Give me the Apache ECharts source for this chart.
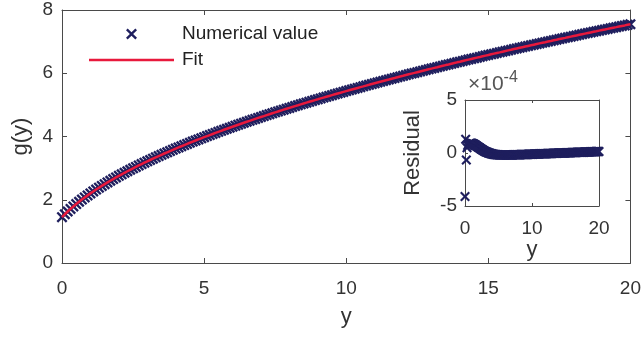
<!DOCTYPE html>
<html>
<head>
<meta charset="utf-8">
<script src="https://cdn.jsdelivr.net/npm/echarts@6/dist/echarts.min.js"></script>
<style>html,body{margin:0;padding:0;background:#fff}#c{width:644px;height:337px}</style>
</head>
<body>
<div id="c"></div>
<script>
// sample positions y
const xs = [0,0.1,0.2,0.3,0.4,0.5,0.6,0.7,0.8,0.9,1,1.1,1.2,1.3,1.4,1.5,1.6,1.7,1.8,1.9,2,2.1,2.2,2.3,2.4,2.5,2.6,2.7,2.8,2.9,3,3.1,3.2,3.3,3.4,3.5,3.6,3.7,3.8,3.9,4,4.1,4.2,4.3,4.4,4.5,4.6,4.7,4.8,4.9,5,5.1,5.2,5.3,5.4,5.5,5.6,5.7,5.8,5.9,6,6.1,6.2,6.3,6.4,6.5,6.6,6.7,6.8,6.9,7,7.1,7.2,7.3,7.4,7.5,7.6,7.7,7.8,7.9,8,8.1,8.2,8.3,8.4,8.5,8.6,8.7,8.8,8.9,9,9.1,9.2,9.3,9.4,9.5,9.6,9.7,9.8,9.9,10,10.1,10.2,10.3,10.4,10.5,10.6,10.7,10.8,10.9,11,11.1,11.2,11.3,11.4,11.5,11.6,11.7,11.8,11.9,12,12.1,12.2,12.3,12.4,12.5,12.6,12.7,12.8,12.9,13,13.1,13.2,13.3,13.4,13.5,13.6,13.7,13.8,13.9,14,14.1,14.2,14.3,14.4,14.5,14.6,14.7,14.8,14.9,15,15.1,15.2,15.3,15.4,15.5,15.6,15.7,15.8,15.9,16,16.1,16.2,16.3,16.4,16.5,16.6,16.7,16.8,16.9,17,17.1,17.2,17.3,17.4,17.5,17.6,17.7,17.8,17.9,18,18.1,18.2,18.3,18.4,18.5,18.6,18.7,18.8,18.9,19,19.1,19.2,19.3,19.4,19.5,19.6,19.7,19.8,19.9,20];
// numerical g(y) values
const gVals = [1.449,1.541,1.628,1.710,1.788,1.863,1.936,2.005,2.073,2.138,2.201,2.263,2.323,2.381,2.438,2.494,2.548,2.601,2.654,2.705,2.755,2.804,2.853,2.901,2.948,2.994,3.039,3.084,3.128,3.172,3.215,3.257,3.299,3.340,3.381,3.422,3.462,3.501,3.540,3.578,3.617,3.654,3.692,3.729,3.765,3.802,3.838,3.873,3.908,3.943,3.978,4.012,4.046,4.080,4.114,4.147,4.180,4.213,4.245,4.277,4.309,4.341,4.373,4.404,4.435,4.466,4.496,4.527,4.557,4.587,4.617,4.646,4.676,4.705,4.734,4.763,4.792,4.820,4.849,4.877,4.905,4.933,4.961,4.988,5.016,5.043,5.070,5.097,5.124,5.151,5.177,5.204,5.230,5.256,5.282,5.308,5.334,5.360,5.385,5.411,5.436,5.461,5.486,5.511,5.536,5.561,5.585,5.610,5.634,5.659,5.683,5.707,5.731,5.755,5.779,5.802,5.826,5.849,5.873,5.896,5.919,5.943,5.966,5.989,6.011,6.034,6.057,6.080,6.102,6.125,6.147,6.169,6.191,6.214,6.236,6.258,6.279,6.301,6.323,6.345,6.366,6.388,6.409,6.431,6.452,6.473,6.494,6.515,6.537,6.558,6.578,6.599,6.620,6.641,6.661,6.682,6.702,6.723,6.743,6.764,6.784,6.804,6.824,6.844,6.864,6.884,6.904,6.924,6.944,6.964,6.983,7.003,7.022,7.042,7.061,7.081,7.100,7.119,7.139,7.158,7.177,7.196,7.215,7.234,7.253,7.272,7.291,7.310,7.328,7.347,7.366,7.384,7.403,7.422,7.440,7.458,7.477,7.495,7.513,7.532,7.550];
// residuals in units of 1e-4
const residVals = [-4.1,1.3,-0.65,0.5,0.7,0.8,0.87,0.9,0.92,0.93,0.92,0.9,0.88,0.85,0.81,0.77,0.73,0.69,0.64,0.6,0.55,0.51,0.46,0.42,0.38,0.34,0.3,0.26,0.22,0.19,0.15,0.12,0.09,0.06,0.04,0.01,-0.01,-0.03,-0.05,-0.07,-0.08,-0.1,-0.11,-0.12,-0.13,-0.14,-0.15,-0.16,-0.16,-0.17,-0.17,-0.18,-0.18,-0.18,-0.19,-0.19,-0.19,-0.19,-0.19,-0.19,-0.19,
-0.19,-0.19,-0.19,-0.19,-0.18,-0.18,-0.18,-0.18,-0.18,-0.18,
-0.18,-0.17,-0.17,-0.17,-0.17,-0.17,-0.17,-0.16,-0.16,-0.16,
-0.16,-0.16,-0.15,-0.15,-0.15,-0.15,-0.14,-0.14,-0.14,-0.14,
-0.13,-0.13,-0.13,-0.13,-0.12,-0.12,-0.12,-0.12,-0.11,-0.11,
-0.11,-0.11,-0.1,-0.1,-0.1,-0.1,-0.09,-0.09,-0.09,-0.09,
-0.08,-0.08,-0.08,-0.08,-0.07,-0.07,-0.07,-0.07,-0.06,-0.06,
-0.06,-0.06,-0.05,-0.05,-0.05,-0.05,-0.04,-0.04,-0.04,-0.04,
-0.03,-0.03,-0.03,-0.03,-0.02,-0.02,-0.02,-0.02,-0.01,-0.01,
-0.01,-0.01,0,0,0,0,0.01,0.01,0.01,0.01,
0.02,0.02,0.02,0.02,0.03,0.03,0.03,0.03,0.04,0.04,
0.04,0.04,0.05,0.05,0.05,0.05,0.06,0.06,0.06,0.06,
0.07,0.07,0.07,0.07,0.08,0.08,0.08,0.08,0.09,0.09,
0.09,0.09,0.1,0.1,0.1,0.1,0.11,0.11,0.11,0.11,
0.12,0.12,0.12,0.12,0.13,0.13,0.13,0.13,0.14,0.14];
const mainXTicks = [0,5,10,15,20];
const mainYTicks = [0,2,4,6,8];
const insetXTicks = [0,10,20];
const insetYTicks = [-5,0,5];

const FONT = '"Liberation Sans", Arial, Helvetica, sans-serif';
const AX = '#4a4a4a';
const TXT = '#333333';
const NAVY = '#1f1f5e';
const RED = '#e8193c';
const CROSS = 'path://M0,1.5L1.5,0L5,3.5L8.5,0L10,1.5L6.5,5L10,8.5L8.5,10L5,6.5L1.5,10L0,8.5L3.5,5Z';
const LINEICON = 'path://M0,0L100,0L100,3L0,3Z';

function axis(o){
  const base = {
    type:'value', min:o.min, max:o.max, interval:o.interval,
    axisLine:{show:true, onZero:false, lineStyle:{color:AX, width:1}},
    axisTick:{show:true, inside:true, length:o.tick, lineStyle:{color:AX, width:1}},
    axisLabel:{show:!!o.labels, color:TXT, fontFamily:FONT, fontSize:o.fs||19, margin:o.margin||10},
    splitLine:{show:false}
  };
  return Object.assign(base, o.extra||{});
}

const mainData = xs.map((x,i)=>[x,gVals[i]]);
const residData = xs.map((x,i)=>[x,residVals[i]]);

const option = {
  animation:false,
  backgroundColor:'#fff',
  grid:[
    {left:62, right:11, top:10, bottom:74, containLabel:false},
    {left:465, top:100, width:134, height:106, show:true, backgroundColor:'#fff', borderWidth:0}
  ],
  legend:{
    left:89, top:24, padding:0, orient:'vertical', itemWidth:85, itemHeight:11, itemGap:6,
    textStyle:{fontFamily:FONT, fontSize:19, color:'#222', lineHeight:20, padding:[0,0,0,3]},
    data:[{name:'Numerical value', icon:CROSS}, {name:'Fit', icon:LINEICON}]
  },
  xAxis:[
    axis({min:0,max:20,interval:5,tick:5,labels:true,margin:16,extra:{gridIndex:0,position:'bottom',
      name:'y',nameLocation:'middle',nameGap:43,nameTextStyle:{fontFamily:FONT,fontSize:22,color:TXT}}}),
    axis({min:0,max:20,interval:5,tick:5,extra:{gridIndex:0,position:'top'}}),
    axis({min:0,max:20,interval:10,tick:3,labels:true,margin:13,extra:{gridIndex:1,position:'bottom',
      name:'y',nameLocation:'middle',nameGap:24,nameTextStyle:{fontFamily:FONT,fontSize:22,color:TXT}}}),
    axis({min:0,max:20,interval:10,tick:3,extra:{gridIndex:1,position:'top',
      name:'{a|×10}{b|-4}',nameLocation:'start',nameGap:-3,
      nameTextStyle:{align:'left',verticalAlign:'bottom',padding:[0,0,2,0],
        rich:{a:{fontFamily:FONT,fontSize:21,color:'#555',lineHeight:21},b:{fontFamily:FONT,fontSize:16,color:'#555',padding:[0,0,12,0]}}}}})
  ],
  yAxis:[
    axis({min:0,max:8,interval:2,tick:5,labels:true,margin:9,extra:{gridIndex:0,position:'left',
      name:'g(y)',nameLocation:'middle',nameGap:30,nameTextStyle:{fontFamily:FONT,fontSize:22,color:TXT}}}),
    axis({min:0,max:8,interval:2,tick:5,extra:{gridIndex:0,position:'right'}}),
    axis({min:-5,max:5,interval:5,tick:3,labels:true,margin:8,extra:{gridIndex:1,position:'left',
      name:'Residual',nameLocation:'middle',nameGap:41,nameTextStyle:{fontFamily:FONT,fontSize:22,color:TXT}}}),
    axis({min:-5,max:5,interval:5,tick:3,extra:{gridIndex:1,position:'right'}})
  ],
  series:[
    {name:'Numerical value', type:'scatter', xAxisIndex:0, yAxisIndex:0, symbol:CROSS, symbolSize:11,
      itemStyle:{color:NAVY, opacity:1}, data:mainData, z:2},
    {name:'Fit', type:'line', xAxisIndex:0, yAxisIndex:0, symbol:'none', smooth:false,
      lineStyle:{color:RED, width:2.5}, itemStyle:{color:RED}, data:mainData, z:3},
    {name:'Residual', type:'scatter', xAxisIndex:2, yAxisIndex:2, symbol:CROSS, symbolSize:10,
      itemStyle:{color:NAVY, opacity:1}, data:residData, z:4}
  ]
};
const chart = echarts.init(document.getElementById('c'), null, {renderer:'canvas'});
chart.setOption(option);
</script>
</body>
</html>
